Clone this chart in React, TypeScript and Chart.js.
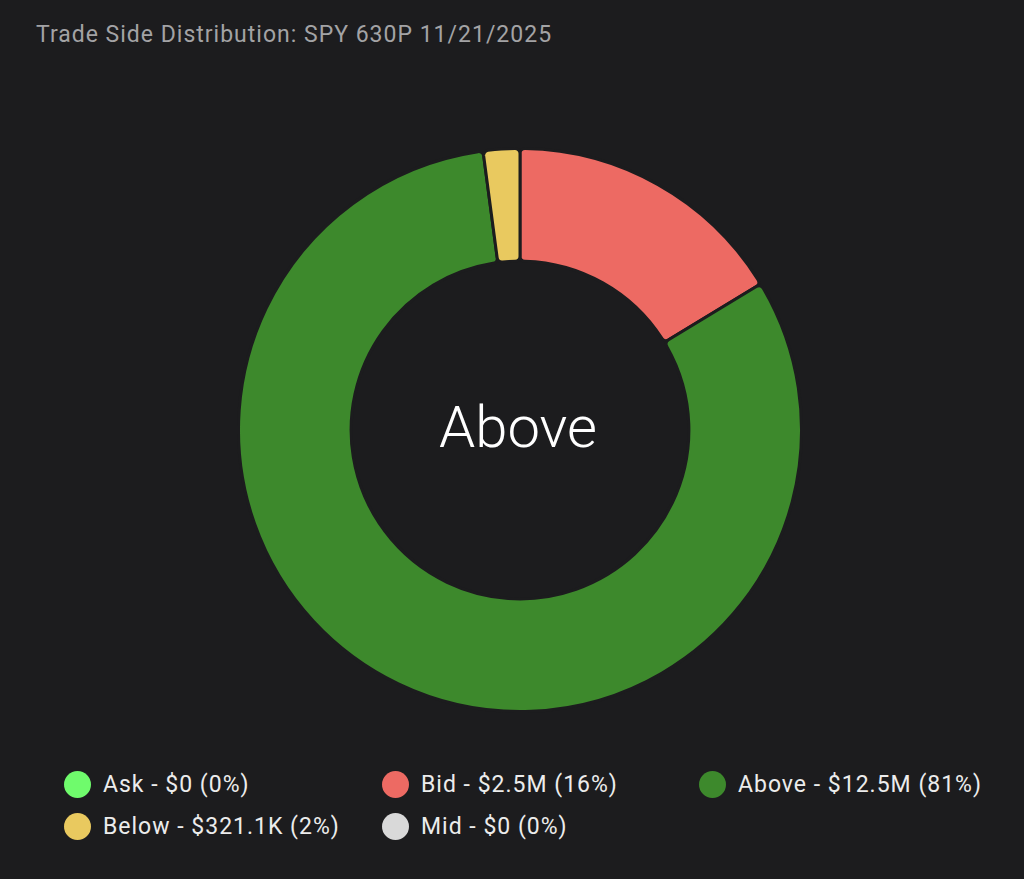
import React, { useEffect, useRef } from "react";
import { Chart, registerables } from "chart.js";

Chart.register(...registerables);

const TITLE = "Trade Side Distribution: SPY 630P 11/21/2025";
const labels = ["Ask", "Bid", "Above", "Below", "Mid"];
const values = [0, 2500000, 12500000, 321100, 0];
const valueLabels = ["$0", "$2.5M", "$12.5M", "$321.1K", "$0"];
const percents = [0, 16, 81, 2, 0];
const colors = ["#6ffb6c", "#ed6a63", "#3d892c", "#e9c95f", "#d9d9d9"];
const centerLabel = "Above";

const BG = "#1c1c1e";
const FONT = "Roboto, 'Noto Sans', sans-serif";

const centerTextPlugin = {
  id: "centerText",
  afterDraw(chart: any) {
    const meta = chart.getDatasetMeta(0);
    const arc = meta.data[0];
    if (!arc) return;
    const { x, y } = arc;
    const ctx = chart.ctx;
    ctx.save();
    ctx.fillStyle = "#ffffff";
    ctx.font = `300 58px ${FONT}`;
    ctx.textAlign = "center";
    ctx.textBaseline = "middle";
    ctx.fillText(centerLabel, x - 2, y + 2);
    ctx.restore();
  },
};

export default function App() {
  const ref = useRef<HTMLCanvasElement | null>(null);

  useEffect(() => {
    document.body.style.margin = "0";
    document.body.style.background = BG;
    const chart = new Chart(ref.current as HTMLCanvasElement, {
      type: "doughnut",
      data: {
        labels,
        datasets: [
          {
            data: values,
            backgroundColor: colors,
            borderColor: BG,
            borderWidth: 3,
            borderRadius: 5,
          },
        ],
      },
      options: {
        animation: false,
        responsive: false,
        maintainAspectRatio: false,
        cutout: "60%",
        layout: { padding: 0 },
        plugins: {
          legend: { display: false },
          tooltip: { enabled: false },
          title: { display: false },
        },
      },
      plugins: [centerTextPlugin],
    });
    return () => chart.destroy();
  }, []);

  const colLeft = [64, 382, 699];
  const rowTop = [770, 812];

  return (
    <div
      style={{
        position: "relative",
        width: 1024,
        height: 879,
        background: BG,
        overflow: "hidden",
        fontFamily: FONT,
      }}
    >
      <div
        style={{
          position: "absolute",
          left: 36,
          top: 21,
          fontSize: 23,
          letterSpacing: 1,
          color: "#a3a3a5",
          whiteSpace: "nowrap",
        }}
      >
        {TITLE}
      </div>
      <canvas
        ref={ref}
        width={566}
        height={566}
        style={{ position: "absolute", left: 237, top: 147, width: 566, height: 566 }}
      />
      {labels.map((l, i) => {
        const col = i % 3;
        const row = Math.floor(i / 3);
        return (
          <div
            key={l}
            style={{
              position: "absolute",
              left: colLeft[col],
              top: rowTop[row],
              height: 28,
              display: "flex",
              alignItems: "center",
              whiteSpace: "nowrap",
            }}
          >
            <span
              style={{
                width: 27,
                height: 27,
                borderRadius: "50%",
                background: colors[i],
                display: "inline-block",
                marginRight: 12,
              }}
            />
            <span style={{ color: "#ececec", fontSize: 23, letterSpacing: 1 }}>
              {`${l} - ${valueLabels[i]} (${percents[i]}%)`}
            </span>
          </div>
        );
      })}
    </div>
  );
}
